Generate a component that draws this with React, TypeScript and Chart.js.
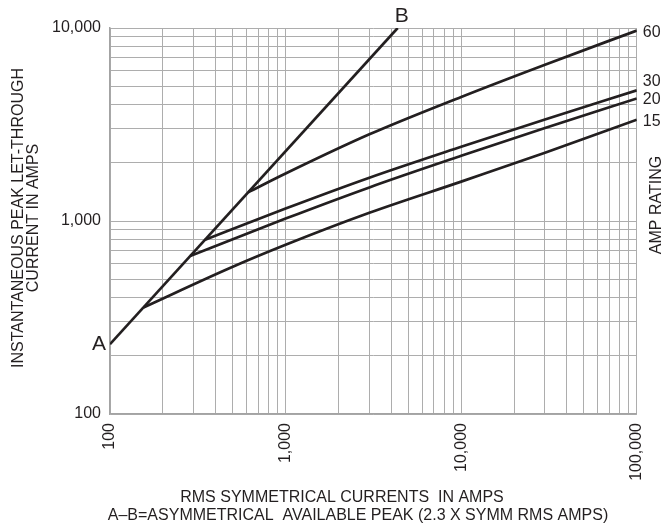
import React, { useEffect, useRef } from 'react';
import { Chart, registerables } from 'chart.js';

Chart.register(...registerables);

// ---- data ----
const xLabelTicks = [100, 1000, 10000, 100000];
const yLabelTicks = [100, 1000, 10000];

const abX = [100, 4348];
const abY = [230, 10000];

const amp15X = [155, 482, 1000, 3000, 10000, 30000, 100000];
const amp15Y = [356.5, 571, 753, 1103, 1600, 2255, 3350];

const amp20X = [286, 1000, 3000, 10000, 30000, 100000];
const amp20Y = [658, 1029, 1493, 2176, 3034, 4315];

const amp30X = [348, 1000, 3000, 10000, 30000, 100000];
const amp30Y = [800, 1160, 1676, 2424, 3360, 4753];

const amp60X = [612, 1000, 3000, 10000, 30000, 100000];
const amp60Y = [1408, 1761, 2812, 4395, 6457, 9700];

const ratingLabels = ['15', '20', '30', '60'];
const pointA = 'A';
const pointB = 'B';
const xTitleLines = ['RMS SYMMETRICAL CURRENTS  IN AMPS', 'A\u2013B=ASYMMETRICAL  AVAILABLE PEAK (2.3 X SYMM RMS AMPS)'];
const yTitleLines = ['INSTANTANEOUS PEAK LET-THROUGH', 'CURRENT IN AMPS'];
const sideTitle = 'AMP RATING';

// ---- styles ----
const FONT = '"Liberation Sans", Arial, sans-serif';
const INK = '#231f20';
const GRID = '#adadad';
const ratingLabelOffsets = [0, 0, -10, 0];

function logGrid(from: number, to: number) {
  const out: number[] = [];
  for (let d = from; d < to; d *= 10) {
    for (let m = 1; m <= 9; m++) out.push(m * d);
  }
  out.push(to);
  return out;
}

const toPts = (xs: number[], ys: number[]) => xs.map((x, i) => ({ x, y: ys[i] }));

const textPlugin = {
  id: 'extraTexts',
  afterDraw(chart: any) {
    const ctx = chart.ctx as CanvasRenderingContext2D;
    const xs = chart.scales.x;
    const ys = chart.scales.y;
    const ca = chart.chartArea;
    ctx.save();
    ctx.fillStyle = INK;
    ctx.font = `16px ${FONT}`;
    ctx.textBaseline = 'alphabetic';

    // x title
    ctx.textAlign = 'center';
    ctx.fillText(xTitleLines[0], 342, 502);
    ctx.fillText(xTitleLines[1], 358, 520);

    // y title (rotated)
    const yc = 218;
    ctx.save();
    ctx.translate(22.5, yc);
    ctx.rotate(-Math.PI / 2);
    ctx.fillText(yTitleLines[0], 0, 0);
    ctx.restore();
    ctx.save();
    ctx.translate(37.5, yc);
    ctx.rotate(-Math.PI / 2);
    ctx.fillText(yTitleLines[1], 0, 0);
    ctx.restore();

    // side title
    ctx.save();
    ctx.translate(660.5, 205);
    ctx.rotate(-Math.PI / 2);
    ctx.fillText(sideTitle, 0, 0);
    ctx.restore();

    // rating labels at the end of each curve
    ctx.textAlign = 'left';
    const ends = [amp15Y, amp20Y, amp30Y, amp60Y].map((a) => a[a.length - 1]);
    ratingLabels.forEach((lab, i) => {
      const py = ys.getPixelForValue(ends[i]) + ratingLabelOffsets[i];
      ctx.fillText(lab, ca.right + 6, py + 6);
    });

    // A and B
    ctx.font = `21px ${FONT}`;
    ctx.textAlign = 'right';
    const ax = xs.getPixelForValue(abX[0]);
    const ay = ys.getPixelForValue(abY[0]);
    ctx.fillText(pointA, ax - 4, ay + 6);
    ctx.textAlign = 'left';
    const bx = xs.getPixelForValue(abX[abX.length - 1]);
    const by = ys.getPixelForValue(abY[abY.length - 1]);
    ctx.fillText(pointB, bx - 3, by - 6);
    ctx.restore();
  },
};

export default function App() {
  const ref = useRef<HTMLCanvasElement | null>(null);

  useEffect(() => {
    if (!ref.current) return;
    const lineStyle = {
      borderColor: INK,
      borderWidth: 2.7,
      pointRadius: 0,
      cubicInterpolationMode: 'monotone',
      fill: false,
    };
    const chart = new Chart(ref.current, {
      type: 'line',
      data: {
        datasets: [
          { label: 'A-B', data: toPts(abX, abY), ...lineStyle, cubicInterpolationMode: 'default', tension: 0 },
          { label: '15', data: toPts(amp15X, amp15Y), ...lineStyle },
          { label: '20', data: toPts(amp20X, amp20Y), ...lineStyle },
          { label: '30', data: toPts(amp30X, amp30Y), ...lineStyle },
          { label: '60', data: toPts(amp60X, amp60Y), ...lineStyle },
        ],
      },
      options: {
        animation: false,
        responsive: false,
        devicePixelRatio: 1,
        layout: { padding: { left: 0, right: 26, top: 28, bottom: 0 } },
        plugins: { legend: { display: false }, tooltip: { enabled: false } },
        scales: {
          x: {
            type: 'logarithmic',
            min: 100,
            max: 100000,
            afterBuildTicks: (axis: any) => {
              axis.ticks = logGrid(100, 100000).map((v) => ({ value: v }));
            },
            afterFit: (axis: any) => {
              axis.height = 529 - 414;
            },
            grid: { color: GRID, lineWidth: 1, drawTicks: false },
            border: { color: '#a3a3a3', width: 1.5 },
            ticks: {
              autoSkip: false,
              minRotation: 90,
              maxRotation: 90,
              padding: 9,
              color: INK,
              font: { family: FONT, size: 16 },
              callback: (v: any) => (xLabelTicks.includes(Number(v)) ? Number(v).toLocaleString('en-US') : ''),
            },
          },
          y: {
            type: 'logarithmic',
            min: 100,
            max: 10000,
            afterBuildTicks: (axis: any) => {
              axis.ticks = logGrid(100, 10000).map((v) => ({ value: v }));
            },
            afterFit: (axis: any) => {
              axis.width = 110;
            },
            grid: { color: GRID, lineWidth: 1, drawTicks: false },
            border: { color: '#a3a3a3', width: 1.5 },
            ticks: {
              autoSkip: false,
              padding: 9,
              color: INK,
              font: { family: FONT, size: 16 },
              callback: (v: any) => (yLabelTicks.includes(Number(v)) ? Number(v).toLocaleString('en-US') : ''),
            },
          },
        },
      },
      plugins: [textPlugin],
    } as any);
    return () => chart.destroy();
  }, []);

  return (
    <div style={{ position: 'absolute', left: 0, top: 0, width: 665, height: 529, background: '#fff' }}>
      <canvas ref={ref} width={665} height={529} style={{ width: 665, height: 529, display: 'block' }} />
    </div>
  );
}
